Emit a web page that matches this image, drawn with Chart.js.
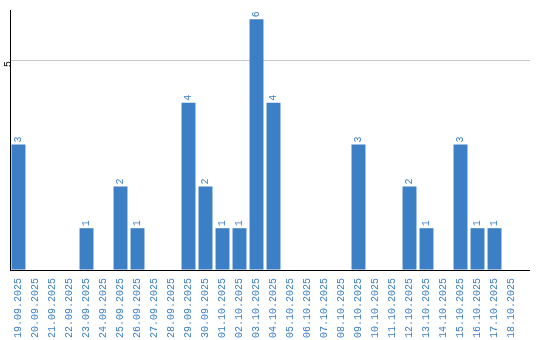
<!DOCTYPE html>
<html>
<head>
<meta charset="utf-8">
<script src="https://cdn.jsdelivr.net/npm/chart.js@4"></script>
<style>
  body { margin: 0; background: #fff; }
  #wrap { width: 540px; height: 340px; }
</style>
</head>
<body>
<div id="wrap"><canvas id="chart"></canvas></div>
<script>
const days = [
  "19.09.2025", "20.09.2025", "21.09.2025", "22.09.2025", "23.09.2025",
  "24.09.2025", "25.09.2025", "26.09.2025", "27.09.2025", "28.09.2025",
  "29.09.2025", "30.09.2025", "01.10.2025", "02.10.2025", "03.10.2025",
  "04.10.2025", "05.10.2025", "06.10.2025", "07.10.2025", "08.10.2025",
  "09.10.2025", "10.10.2025", "11.10.2025", "12.10.2025", "13.10.2025",
  "14.10.2025", "15.10.2025", "16.10.2025", "17.10.2025", "18.10.2025"
];
const counts = [3, 0, 0, 0, 1, 0, 2, 1, 0, 0, 4, 2, 1, 1, 6, 4, 0, 0, 0, 0, 3, 0, 0, 2, 1, 0, 3, 1, 1, 0];

const blue = "#3c7fc4";
const mono = "'Liberation Mono', 'DejaVu Sans Mono', monospace";

// value labels above bars, written bottom-to-top
const barLabels = {
  id: "barLabels",
  afterDatasetsDraw(chart) {
    const ctx = chart.ctx;
    const meta = chart.getDatasetMeta(0);
    ctx.save();
    ctx.fillStyle = blue;
    ctx.font = "10px " + mono;
    ctx.textAlign = "left";
    ctx.textBaseline = "middle";
    meta.data.forEach((bar, i) => {
      if (!counts[i]) return;
      ctx.save();
      ctx.translate(bar.x, bar.y - 2);
      ctx.rotate(-Math.PI / 2);
      ctx.fillText(String(counts[i]), 0, 0);
      ctx.restore();
    });
    ctx.restore();
  }
};

// same rounding chart.js uses for 1px lines
const align = px => Math.round(px - 0.5) + 0.5;

// x axis line and the grid line run a bit past the last bar
const axisTail = {
  id: "axisTail",
  beforeDatasetsDraw(chart) {
    const { ctx, chartArea, scales } = chart;
    const y5 = align(scales.y.getPixelForValue(5));
    ctx.save();
    ctx.strokeStyle = "#c8c8c8";
    ctx.lineWidth = 1;
    ctx.beginPath();
    ctx.moveTo(chartArea.right - 1, y5);
    ctx.lineTo(530, y5);
    ctx.stroke();
    ctx.restore();
  },
  afterDraw(chart) {
    const { ctx, chartArea } = chart;
    const yb = align(chartArea.bottom);
    ctx.save();
    ctx.strokeStyle = "#000";
    ctx.lineWidth = 1;
    ctx.beginPath();
    ctx.moveTo(chartArea.right - 1, yb);
    ctx.lineTo(530, yb);
    ctx.stroke();
    ctx.restore();
  }
};

new Chart(document.getElementById("chart"), {
  type: "bar",
  data: {
    labels: days,
    datasets: [{
      data: counts,
      backgroundColor: blue,
      barPercentage: 0.82,
      categoryPercentage: 1
    }]
  },
  options: {
    responsive: true,
    maintainAspectRatio: false,
    animation: false,
    layout: { padding: { top: 10, right: 20, left: 0, bottom: 0 } },
    plugins: { legend: { display: false }, tooltip: { enabled: false } },
    scales: {
      x: {
        grid: { display: false },
        border: { color: "#000", width: 1 },
        ticks: {
          color: blue,
          font: { family: mono, size: 10 },
          minRotation: 90,
          maxRotation: 90,
          autoSkip: false,
          padding: 0
        },
        afterFit(scale) { scale.height = 70; }
      },
      y: {
        min: 0,
        max: 6.22,
        grid: {
          color: c => (c.tick && c.tick.value === 5 ? "#c8c8c8" : "rgba(0,0,0,0)"),
          drawTicks: false
        },
        border: { color: "#000", width: 1 },
        ticks: {
          stepSize: 5,
          color: "#000",
          font: { family: mono, size: 10 },
          minRotation: 90,
          maxRotation: 90,
          padding: 2,
          callback: v => (v === 5 ? "5" : "")
        },
        afterFit(scale) { scale.width = 10; }
      }
    }
  },
  plugins: [barLabels, axisTail]
});
</script>
</body>
</html>
